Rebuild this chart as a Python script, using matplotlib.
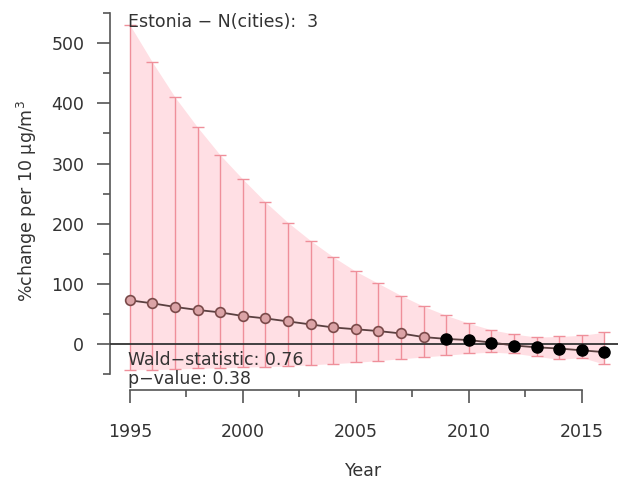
import matplotlib
matplotlib.use('Agg')
import matplotlib.pyplot as plt
from matplotlib.ticker import MultipleLocator

plt.rcParams['font.family'] = ['DejaVu Sans']

years = [1995, 1996, 1997, 1998, 1999, 2000, 2001, 2002, 2003, 2004, 2005,
         2006, 2007, 2008, 2009, 2010, 2011, 2012, 2013, 2014, 2015, 2016]
estimate = [73, 68, 62, 57, 53, 47, 43, 38, 33, 28, 25,
            22, 18, 12, 9, 7, 3, -2, -5, -7, -10, -13]
upper = [530, 468, 410, 360, 314, 274, 236, 202, 172, 145, 121,
         101, 81, 63, 48, 35, 24, 17, 12, 13, 15, 20]
lower = [-42, -42, -41, -40, -39, -38, -37, -36, -34, -32, -30,
         -27, -24, -21, -18, -15, -13, -15, -20, -25, -22, -33]
significant_from = 2009

country = 'Estonia'
n_cities = 3
wald = 0.76
p_value = 0.38

fs = 12.5
txt = '#333333'

fig = plt.figure(figsize=(6.18, 4.84), dpi=100)
ax = fig.add_axes([0.178, 0.194, 0.822, 0.783])

# confidence band and error bars
ax.fill_between(years, lower, upper, color='#ffdfe4', lw=0, zorder=1)
ax.errorbar(years, estimate, yerr=[[e - l for e, l in zip(estimate, lower)],
                                   [u - e for e, u in zip(estimate, upper)]],
            fmt='none', ecolor='#ef8f9a', elinewidth=1.0, capsize=4,
            capthick=1.0, zorder=2)
ax.axhline(0, color='#333333', lw=1.3, zorder=3)
ax.plot(years, estimate, color='#5a4040', lw=1.3, zorder=4)

open_x = [y for y in years if y < significant_from]
open_y = [e for y, e in zip(years, estimate) if y < significant_from]
fill_x = [y for y in years if y >= significant_from]
fill_y = [e for y, e in zip(years, estimate) if y >= significant_from]
ax.plot(open_x, open_y, 'o', ms=7, mfc='#dba3a6', mec='#7a4a4a', mew=1.2,
        zorder=5)
ax.plot(fill_x, fill_y, 'o', ms=8, color='black', zorder=5)

ax.set_xlim(1994.12, 2016.6)
ax.set_ylim(-76, 553)

for side in ['top', 'right']:
    ax.spines[side].set_visible(False)
ax.spines['left'].set_bounds(-50, 550)
ax.spines['bottom'].set_bounds(1995, 2015)
for side in ['left', 'bottom']:
    ax.spines[side].set_color('#555555')
    ax.spines[side].set_linewidth(1.2)

ax.set_yticks(range(0, 501, 100))
ax.yaxis.set_minor_locator(MultipleLocator(50))
ax.set_xticks(range(1995, 2016, 5))
ax.set_xticks([1997.5, 2002.5, 2007.5, 2012.5], minor=True)
ax.tick_params(which='major', length=9.5, width=1.2, color='#555555',
               labelsize=fs, labelcolor=txt)
ax.tick_params(which='minor', length=5, width=1.2, color='#555555')
ax.tick_params(axis='x', which='major', pad=14)
ax.tick_params(axis='y', which='major', pad=9)

ax.set_xlabel('Year', fontsize=fs, color=txt, labelpad=15)
ax.set_ylabel('%change per 10 µg/m$^3$', fontsize=fs, color=txt,
              labelpad=9)

ax.text(0.035, 0.971, f'{country} \u2212 N(cities):  {n_cities}',
        transform=ax.transAxes, fontsize=fs, color=txt, va='center')
ax.text(0.035, 0.079, f'Wald\u2212statistic: {wald:.2f}',
        transform=ax.transAxes, fontsize=fs, color=txt, va='center',
        zorder=6)
ax.text(0.035, 0.029, f'p\u2212value: {p_value:.2f}',
        transform=ax.transAxes, fontsize=fs, color=txt, va='center',
        zorder=6)

fig.savefig('out.png', dpi=100)
